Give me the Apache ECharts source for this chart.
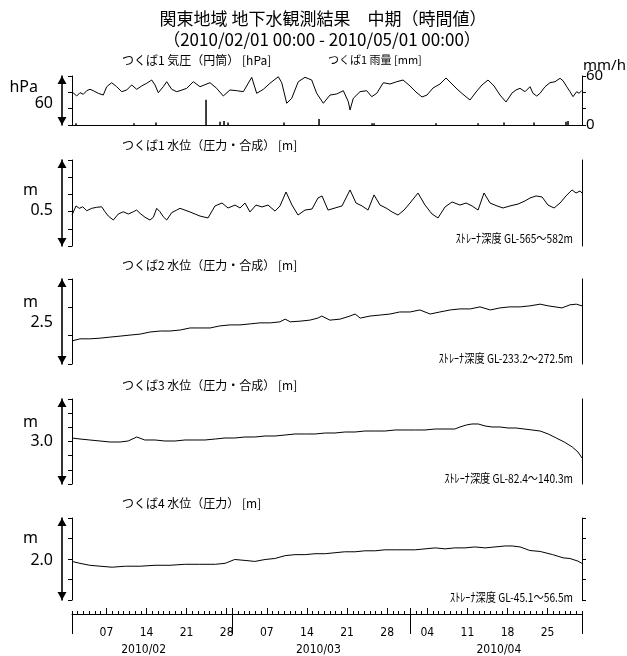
<!DOCTYPE html>
<html>
<head>
<meta charset="utf-8">
<script src="https://cdn.jsdelivr.net/npm/echarts@6/dist/echarts.min.js"></script>
<style>
html,body{margin:0;padding:0;background:#fff}
#c{width:627px;height:656px}
</style>
</head>
<body>
<div id="c"></div>
<script>
// Time is counted in days from 2010-02-01 00:00 (JST); 89 days to 2010-05-01 00:00.

// つくば1 気圧 [hPa]
const pressureDay = [0,0.82,1.40,1.97,2.57,3.14,3.72,4.59,5.46,6.06,6.93,7.80,8.67,9.55,10.42,11.29,12.16,13.04,13.91,14.49,15.06,15.93,16.53,17.40,18.27,18.85,20.02,21.17,22.34,24.08,25.25,26.40,27.57,28.74,29.90,31.36,32.23,33.39,34.55,36.00,36.60,37.47,38.34,39.49,40.66,41.83,42.70,43.86,45.03,46.20,47.35,48.22,48.52,49.09,50.26,51.43,52.30,53.18,54.33,55.50,56.67,57.77,58.99,60.03,61.08,61.95,63.00,64.22,65.27,66.32,67.36,68.59,69.46,70.51,71.55,72.60,73.65,74.69,75.74,76.79,77.49,78.18,79.06,79.93,80.45,81.10,81.68,82.55,83.42,84.29,85.17,85.69,86.34,86.91,87.43,88.08,88.48,88.95];
const pressureHpa = [1020.8,1015.5,1019.6,1017.6,1022.0,1023.7,1022.0,1018.8,1016.7,1026.9,1031.8,1026.9,1020.8,1022.9,1029.0,1023.7,1027.8,1031.1,1035.1,1029.0,1019.6,1026.9,1033.0,1023.7,1020.8,1022.0,1024.9,1033.0,1026.9,1031.8,1024.9,1015.5,1022.9,1022.0,1020.8,1038.4,1018.8,1023.7,1031.1,1039.1,1031.8,1006.6,1012.7,1033.0,1038.4,1035.1,1018.8,1006.6,1016.7,1018.0,1022.0,1008.5,998.4,1012.7,1020.8,1022.0,1014.7,1018.8,1031.8,1030.2,1033.0,1035.1,1027.8,1020.4,1014.3,1016.7,1025.3,1030.2,1037.6,1030.2,1022.9,1015.5,1010.6,1020.4,1029.0,1035.1,1027.8,1016.7,1008.2,1019.2,1022.9,1024.9,1020.8,1026.9,1018.8,1015.5,1018.8,1026.9,1031.8,1033.0,1037.2,1034.2,1026.9,1020.8,1014.7,1020.8,1018.8,1022.0];

// つくば1 雨量 [mm/h]
const rainDay = [0.70,10.82,14.66,23.39,25.83,26.53,27.23,37.00,43.11,52.36,52.71,63.53,70.86,75.39,80.63,86.21,86.56];
const rainMm  = [2,2,3,31,4,5,3,3,7.5,2,2,2,2,3,3,4,5];

// つくば1 水位（圧力・合成） [m]
const level1Day = [0,0.70,1.27,1.87,2.57,3.44,4.31,5.18,5.76,6.34,7.21,8.08,8.95,9.83,10.70,11.29,11.87,12.74,13.61,14.19,14.78,15.36,15.93,16.53,17.40,18.27,18.85,20.59,22.34,23.73,24.96,26.18,27.23,28.45,29.32,30.19,31.06,32.11,33.16,34.21,35.43,36.30,37.35,38.39,39.44,40.66,41.88,42.93,43.63,44.68,45.90,47.12,48.52,49.56,50.61,51.66,52.71,53.75,54.80,55.85,56.89,57.94,58.99,60.38,61.61,62.83,63.87,65.10,66.32,67.71,68.76,69.81,70.86,71.90,72.95,74.17,75.22,76.44,77.84,79.06,79.93,80.98,82.03,83.07,84.12,85.17,86.21,87.26,87.96,88.66,89.00];
const level1M = [0.180,0.233,0.219,0.228,0.205,0.219,0.225,0.228,0.199,0.174,0.151,0.186,0.199,0.186,0.199,0.209,0.190,0.167,0.151,0.167,0.219,0.199,0.170,0.151,0.194,0.209,0.219,0.198,0.174,0.163,0.233,0.250,0.221,0.238,0.221,0.250,0.198,0.238,0.227,0.238,0.203,0.233,0.314,0.238,0.180,0.209,0.215,0.279,0.291,0.209,0.221,0.233,0.326,0.250,0.233,0.209,0.297,0.238,0.221,0.198,0.180,0.209,0.250,0.308,0.238,0.186,0.163,0.227,0.256,0.238,0.250,0.233,0.209,0.308,0.250,0.233,0.221,0.233,0.244,0.262,0.279,0.291,0.285,0.238,0.221,0.250,0.291,0.326,0.308,0.320,0.308];

// つくば2 水位（圧力・合成） [m]
const level2Day = [0,1.4,3.1,4.9,6.6,8.4,10.1,11.9,13.6,15.4,17.1,18.9,20.6,22.3,24.1,25.8,27.6,29.3,31.1,32.8,34.6,36.3,37.2,38.1,39.8,41.5,42.9,43.6,45.0,46.8,48.5,49.4,50.3,52.0,53.8,55.5,57.2,59.0,60.7,62.5,64.2,66.0,67.7,69.5,71.2,73.0,74.7,76.4,78.2,79.9,81.7,83.1,84.3,85.5,86.9,88.0,89.0];
const level2M = [0.68,0.74,0.74,0.76,0.79,0.82,0.85,0.88,0.94,0.97,0.97,1.00,1.06,1.06,1.06,1.12,1.15,1.15,1.18,1.21,1.21,1.24,1.32,1.24,1.26,1.29,1.35,1.41,1.29,1.32,1.41,1.47,1.35,1.41,1.44,1.47,1.53,1.53,1.59,1.47,1.53,1.59,1.62,1.62,1.68,1.59,1.65,1.68,1.68,1.71,1.76,1.71,1.68,1.65,1.74,1.76,1.71];

// つくば3 水位（圧力・合成） [m]
const level3Day = [0,1.4,3.1,4.9,6.6,8.4,9.8,11.3,12.7,14.5,16.2,18.0,19.7,21.5,23.2,25.0,26.7,28.4,30.2,31.9,33.7,35.4,37.2,38.9,40.7,42.4,44.2,45.9,47.6,49.4,51.1,52.9,54.6,56.4,58.1,59.9,61.6,63.4,65.1,66.8,67.7,68.8,69.8,70.9,72.1,73.3,74.7,76.1,77.5,78.9,80.3,81.7,83.1,84.5,85.9,87.3,88.3,89.0];
const level3M = [1.623,1.588,1.553,1.518,1.482,1.482,1.518,1.659,1.553,1.553,1.518,1.518,1.553,1.553,1.553,1.588,1.623,1.623,1.659,1.659,1.694,1.694,1.729,1.765,1.765,1.765,1.800,1.800,1.835,1.835,1.870,1.870,1.870,1.906,1.906,1.906,1.906,1.941,1.941,1.941,2.012,2.082,2.118,2.118,2.047,2.012,2.012,1.976,1.976,1.941,1.906,1.870,1.765,1.623,1.482,1.306,1.129,0.918];

// つくば4 水位（圧力） [m]
const level4Day = [0,1.4,3.1,4.9,7.0,9.3,11.9,14.5,17.1,19.7,22.3,25.0,26.7,28.4,30.2,31.9,33.7,35.4,37.2,38.9,40.7,42.4,44.2,45.9,47.6,49.4,51.1,52.9,54.6,56.4,58.1,59.9,61.6,63.4,65.1,66.8,68.6,70.3,72.1,73.8,75.6,76.8,78.2,79.9,81.7,83.9,85.7,86.9,88.3,89.0];
const level4M = [0.941,0.894,0.847,0.824,0.800,0.824,0.824,0.847,0.847,0.871,0.871,0.871,0.894,0.988,0.965,0.941,0.988,1.012,1.082,1.106,1.106,1.129,1.129,1.153,1.176,1.176,1.200,1.200,1.224,1.224,1.224,1.224,1.247,1.271,1.247,1.271,1.271,1.294,1.271,1.294,1.318,1.318,1.294,1.207,1.184,1.106,1.028,1.012,0.948,0.894];

// bottom time axis
const dayTickDays  = [6,13,20,27,34,41,48,55,62,69,76,83];
const dayTickText  = ['07','14','21','28','07','14','21','28','04','11','18','25'];
const weekTickDays = [6,13,20,27,28,34,41,48,55,59,62,69,76,83];
const monthStartDays = [0,28,59,89];
const monthLabelDays = [12.5,43,74.5];
const monthLabelText = ['2010/02','2010/03','2010/04'];

// axis ranges shown by the span arrows
const spanLabels = ['60','0.5','2.5','3.0','2.0'];
const unitLabels = ['hPa','m','m','m','m'];

const panelTitles = [
  'つくば1 気圧（円筒） [hPa]',
  'つくば1 水位（圧力・合成） [m]',
  'つくば2 水位（圧力・合成） [m]',
  'つくば3 水位（圧力・合成） [m]',
  'つくば4 水位（圧力） [m]'
];
const strainerLabels = [
  null,
  'ｽﾄﾚｰﾅ深度 GL-565～582m',
  'ｽﾄﾚｰﾅ深度 GL-233.2～272.5m',
  'ｽﾄﾚｰﾅ深度 GL-82.4～140.3m',
  'ｽﾄﾚｰﾅ深度 GL-45.1～56.5m'
];

const BLACK = '#000';
const JP = '"Noto Sans CJK JP", sans-serif';
const LATIN = '"Noto Sans", "DejaVu Sans", sans-serif';
const NARROW = '"Liberation Sans Narrow", "DejaVu Sans Condensed", "Noto Sans CJK JP", sans-serif';

const panels = [
  {top: 76,  height: 49},
  {top: 160, height: 86},
  {top: 279, height: 85},
  {top: 399, height: 85},
  {top: 518, height: 85}
];
const PLOT_LEFT = 72, PLOT_WIDTH = 510;

function pairs(t, v) { return t.map((d, i) => [d, v[i]]); }

const grid = panels.map(p => ({left: PLOT_LEFT, width: PLOT_WIDTH, top: p.top, height: p.height}));

// x axes: one hidden per panel, the bottom one carries the calendar scale
const xAxis = panels.map((p, i) => ({
  type: 'value', gridIndex: i, position: 'bottom', min: 0, max: 89,
  show: i === 0,
  axisLine: {show: i === 0, onZero: false, lineStyle: {color: BLACK, width: 1}},
  axisTick: {show: false}, axisLabel: {show: false}, splitLine: {show: false}
}));
const dailyTicks = [];
for (let d = 0; d <= 89; d++) dailyTicks.push(d);
// day-of-month scale under the last panel
xAxis[4] = {
  type: 'value', gridIndex: 4, position: 'bottom', min: 0, max: 89, interval: 1, offset: 14,
  axisLine: {show: true, onZero: false, lineStyle: {color: BLACK, width: 1}},
  axisTick: {show: true, inside: true, length: 3, customValues: dailyTicks, lineStyle: {color: BLACK, width: 1}},
  axisLabel: {
    show: true, customValues: dayTickDays, margin: 13,
    formatter: v => dayTickText[dayTickDays.indexOf(v)] || '',
    color: BLACK, fontSize: 12, fontFamily: NARROW
  },
  splitLine: {show: false}
};
// weekly ticks
xAxis.push({
  type: 'value', gridIndex: 4, position: 'bottom', min: 0, max: 89, offset: 14,
  axisLine: {show: false, onZero: false},
  axisTick: {show: true, inside: true, length: 6, customValues: weekTickDays, lineStyle: {color: BLACK, width: 1}},
  axisLabel: {show: false}, splitLine: {show: false}
});
// month boundary ticks
xAxis.push({
  type: 'value', gridIndex: 4, position: 'bottom', min: 0, max: 89, offset: 14,
  axisLine: {show: false, onZero: false},
  axisTick: {show: true, inside: false, length: 20, customValues: monthStartDays, lineStyle: {color: BLACK, width: 1}},
  axisLabel: {show: false}, splitLine: {show: false}
});
// month names
xAxis.push({
  type: 'value', gridIndex: 4, position: 'bottom', min: 0, max: 89, offset: 14,
  axisLine: {show: false, onZero: false},
  axisTick: {show: false},
  axisLabel: {
    show: true, customValues: monthLabelDays, margin: 30,
    formatter: v => monthLabelText[monthLabelDays.indexOf(v)] || '',
    color: BLACK, fontSize: 12, fontFamily: NARROW
  },
  splitLine: {show: false}
});

function bracketAxis(i, min, max, interval, position, ticks) {
  return {
    type: 'value', gridIndex: i, position, min, max, interval,
    axisLine: {show: true, onZero: false, lineStyle: {color: BLACK, width: 1}},
    axisTick: {show: ticks, inside: false, length: 4, lineStyle: {color: BLACK, width: 1}},
    axisLabel: {show: false}, splitLine: {show: false}
  };
}
function arrowAxis(i) {
  return {
    type: 'value', gridIndex: i, position: 'left', offset: 10, min: 0, max: 1,
    axisLine: {
      show: true, onZero: false,
      symbol: ['triangle', 'triangle'], symbolSize: [9, 8], symbolOffset: [4, -4],
      lineStyle: {color: BLACK, width: 1.6}
    },
    axisTick: {show: false}, axisLabel: {show: false}, splitLine: {show: false}
  };
}

const rainAxis = bracketAxis(0, 0, 60, 20, 'right', true);
rainAxis.axisLabel = {show: true, customValues: [0, 60], margin: 4, color: BLACK, fontSize: 15, fontFamily: LATIN};

const yAxis = [
  bracketAxis(0, 980, 1040, 20, 'left', true), rainAxis, arrowAxis(0),
  bracketAxis(1, 0, 0.5, 0.1, 'left', true), bracketAxis(1, 0, 1, 1, 'right', false), arrowAxis(1),
  bracketAxis(2, 0, 2.5, 2.5 / 3, 'left', true), bracketAxis(2, 0, 1, 1, 'right', false), arrowAxis(2),
  bracketAxis(3, 0, 3.0, 0.5, 'left', true), bracketAxis(3, 0, 1, 1, 'right', false), arrowAxis(3),
  bracketAxis(4, 0, 2.0, 0.5, 'left', true), bracketAxis(4, 0, 2.0, 0.5, 'right', true), arrowAxis(4)
];

const lineStyle = {color: BLACK, width: 1};
function lineSeries(xi, yi, data) {
  return {type: 'line', xAxisIndex: xi, yAxisIndex: yi, data, showSymbol: false, symbol: 'none',
          lineStyle, silent: true, animation: false};
}
const series = [
  lineSeries(0, 0, pairs(pressureDay, pressureHpa)),
  {type: 'bar', xAxisIndex: 0, yAxisIndex: 1, data: pairs(rainDay, rainMm), barWidth: 1.5,
   itemStyle: {color: BLACK}, silent: true, animation: false},
  lineSeries(1, 3, pairs(level1Day, level1M)),
  lineSeries(2, 6, pairs(level2Day, level2M)),
  lineSeries(3, 9, pairs(level3Day, level3M)),
  lineSeries(4, 12, pairs(level4Day, level4M))
];

// text around the panels
const unitPos = [[38, 87], [38, 190], [38, 302], [38, 422], [38, 538]];
const spanPos = [[53, 103], [53, 210], [53, 322], [53, 441], [53, 560]];
const titlePos = [60, 145, 265, 385, 503];
const strainerY = [0, 238, 358, 478, 597];

const graphic = [
  {type: 'text', x: 323, y: 19, style: {text: '関東地域 地下水観測結果　中期（時間値）', fontSize: 17, fontFamily: JP, fill: BLACK, align: 'center', verticalAlign: 'middle'}},
  {type: 'text', x: 322, y: 40, style: {text: '（2010/02/01 00:00 - 2010/05/01 00:00）', fontSize: 17, fontFamily: JP, fill: BLACK, align: 'center', verticalAlign: 'middle'}},
  {type: 'text', x: 328, y: titlePos[0], style: {text: 'つくば1 雨量 [mm]', fontSize: 11, fontFamily: JP, fill: BLACK, align: 'left', verticalAlign: 'middle'}},
  {type: 'text', x: 583, y: 66, style: {text: 'mm/h', fontSize: 15, fontFamily: LATIN, fill: BLACK, align: 'left', verticalAlign: 'middle'}}
];
panels.forEach((p, i) => {
  graphic.push({type: 'text', x: 122, y: titlePos[i], style: {text: panelTitles[i], fontSize: 12, fontFamily: JP, fill: BLACK, align: 'left', verticalAlign: 'middle'}});
  graphic.push({type: 'text', x: unitPos[i][0], y: unitPos[i][1], style: {text: unitLabels[i], fontSize: 16, fontFamily: LATIN, fill: BLACK, align: 'right', verticalAlign: 'middle'}});
  graphic.push({type: 'text', x: spanPos[i][0], y: spanPos[i][1], style: {text: spanLabels[i], fontSize: 16, fontFamily: LATIN, fill: BLACK, align: 'right', verticalAlign: 'middle'}});
  if (strainerLabels[i]) {
    graphic.push({type: 'text', x: 573, y: strainerY[i], scaleX: 0.85, style: {text: strainerLabels[i], fontSize: 12, fontFamily: JP, fill: BLACK, align: 'right', verticalAlign: 'middle'}});
  }
});

const chart = echarts.init(document.getElementById('c'), null, {renderer: 'canvas'});
chart.setOption({
  animation: false,
  backgroundColor: '#fff',
  grid, xAxis, yAxis, series, graphic
});
</script>
</body>
</html>
